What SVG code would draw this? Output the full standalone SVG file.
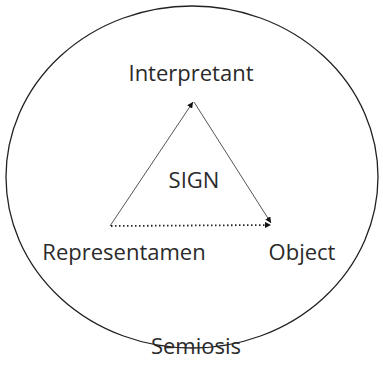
<svg xmlns="http://www.w3.org/2000/svg" width="383" height="366" viewBox="0 0 383 366">
<style>
text{font-family:"Open Sans","Liberation Sans",sans-serif;font-size:22px;fill:#2a2a2a;}
.c{stroke:#555;stroke-width:1;fill:none;}
</style>
<defs>
<marker id="ah" viewBox="0 0 10 10" refX="10" refY="5" markerWidth="6" markerHeight="6" orient="auto" markerUnits="userSpaceOnUse">
<path d="M0,0 L10,5 L0,10 z" fill="#111"/>
</marker>
</defs>
<rect width="383" height="366" fill="#fff"/>
<g id="semiosis">
<ellipse cx="192" cy="177" rx="186" ry="171" fill="none" stroke="#222" stroke-width="1.3"/>
<text x="196" y="354" text-anchor="middle">Semiosis</text>
</g>
<g id="connectors">
<line class="c" x1="110" y1="226" x2="193" y2="102" marker-end="url(#ah)"/>
<line class="c" x1="194" y1="102" x2="271" y2="223" marker-end="url(#ah)"/>
<line x1="111" y1="226" x2="271" y2="225" stroke="#222" stroke-width="1.8" stroke-dasharray="1.5 2.5" marker-end="url(#ah)"/>
</g>
<g id="interpretant"><text x="191" y="81" text-anchor="middle">Interpretant</text></g>
<g id="sign"><text x="194" y="188" text-anchor="middle">SIGN</text></g>
<g id="representamen"><text x="124" y="260" text-anchor="middle">Representamen</text></g>
<g id="object"><text x="302" y="260" text-anchor="middle">Object</text></g>
</svg>
